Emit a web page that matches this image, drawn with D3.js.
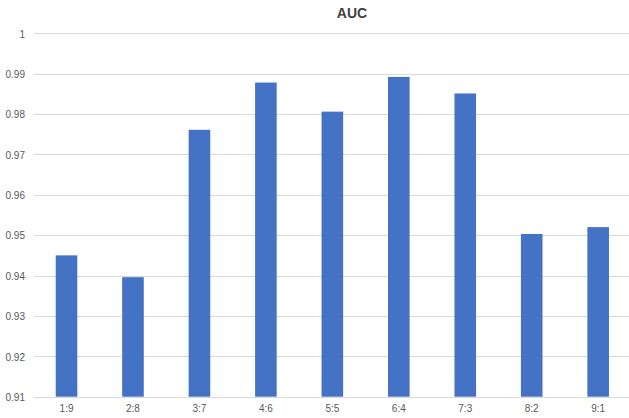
<!DOCTYPE html>
<html>
<head>
<meta charset="utf-8">
<script src="https://cdn.jsdelivr.net/npm/d3@7"></script>
<style>
  html, body { margin: 0; padding: 0; background: #fff; }
  svg { display: block; }
  text { font-family: "Liberation Sans", Arial, sans-serif; }
</style>
</head>
<body>
<svg id="chart" width="629" height="418"></svg>
<script>
// AUC per train:test split ratio
const categories = ["1:9", "2:8", "3:7", "4:6", "5:5", "6:4", "7:3", "8:2", "9:1"];
const aucValues = [0.9450, 0.9396, 0.9761, 0.9878, 0.9806, 0.9892, 0.9851, 0.9503, 0.9520];
const yTicks = [0.91, 0.92, 0.93, 0.94, 0.95, 0.96, 0.97, 0.98, 0.99, 1];
const yTickLabels = ["0.91", "0.92", "0.93", "0.94", "0.95", "0.96", "0.97", "0.98", "0.99", "1"];
const chartTitle = "AUC";

const W = 629, H = 418;
const plot = { left: 34, right: 629, top: 33.3, bottom: 396.7 };

const svg = d3.select("#chart");

const x = d3.scaleBand()
  .domain(categories)
  .range([33.3, 631.4])
  .paddingInner(0.675)
  .paddingOuter(0.3375);

const y = d3.scaleLinear()
  .domain([0.91, 1])
  .range([plot.bottom, plot.top]);

// horizontal gridlines
svg.append("g")
  .selectAll("line")
  .data(yTicks)
  .join("line")
  .attr("x1", plot.left)
  .attr("x2", plot.right)
  .attr("y1", d => Math.round(y(d)) + 0.5)
  .attr("y2", d => Math.round(y(d)) + 0.5)
  .attr("stroke", "#d9d9d9")
  .attr("stroke-width", 1);

// y axis labels
const yAxis = d3.axisLeft(y)
  .tickValues(yTicks)
  .tickFormat((d, i) => yTickLabels[i])
  .tickSize(0)
  .tickPadding(0);

svg.append("g")
  .attr("transform", `translate(25,0.5)`)
  .call(yAxis)
  .call(g => g.select(".domain").remove())
  .call(g => g.selectAll("text")
    .attr("fill", "#595959")
    .attr("font-size", 10)
    .attr("font-family", "Liberation Sans, Arial, sans-serif"));

// bars
svg.append("g")
  .selectAll("rect")
  .data(categories.map((c, i) => ({ c, v: aucValues[i] })))
  .join("rect")
  .attr("x", d => x(d.c))
  .attr("width", x.bandwidth())
  .attr("y", d => y(d.v))
  .attr("height", d => y(0.91) - y(d.v))
  .attr("fill", "#4472c4");

// x axis labels
const xAxis = d3.axisBottom(x).tickSize(0).tickPadding(0);
svg.append("g")
  .attr("transform", `translate(0,405)`)
  .call(xAxis)
  .call(g => g.select(".domain").remove())
  .call(g => g.selectAll("text")
    .attr("fill", "#595959")
    .attr("font-size", 10)
    .attr("font-family", "Liberation Sans, Arial, sans-serif"));

// title
svg.append("text")
  .attr("x", 352)
  .attr("y", 18)
  .attr("text-anchor", "middle")
  .attr("font-size", 14)
  .attr("font-weight", "bold")
  .attr("fill", "#404040")
  .text(chartTitle);
</script>
</body>
</html>
